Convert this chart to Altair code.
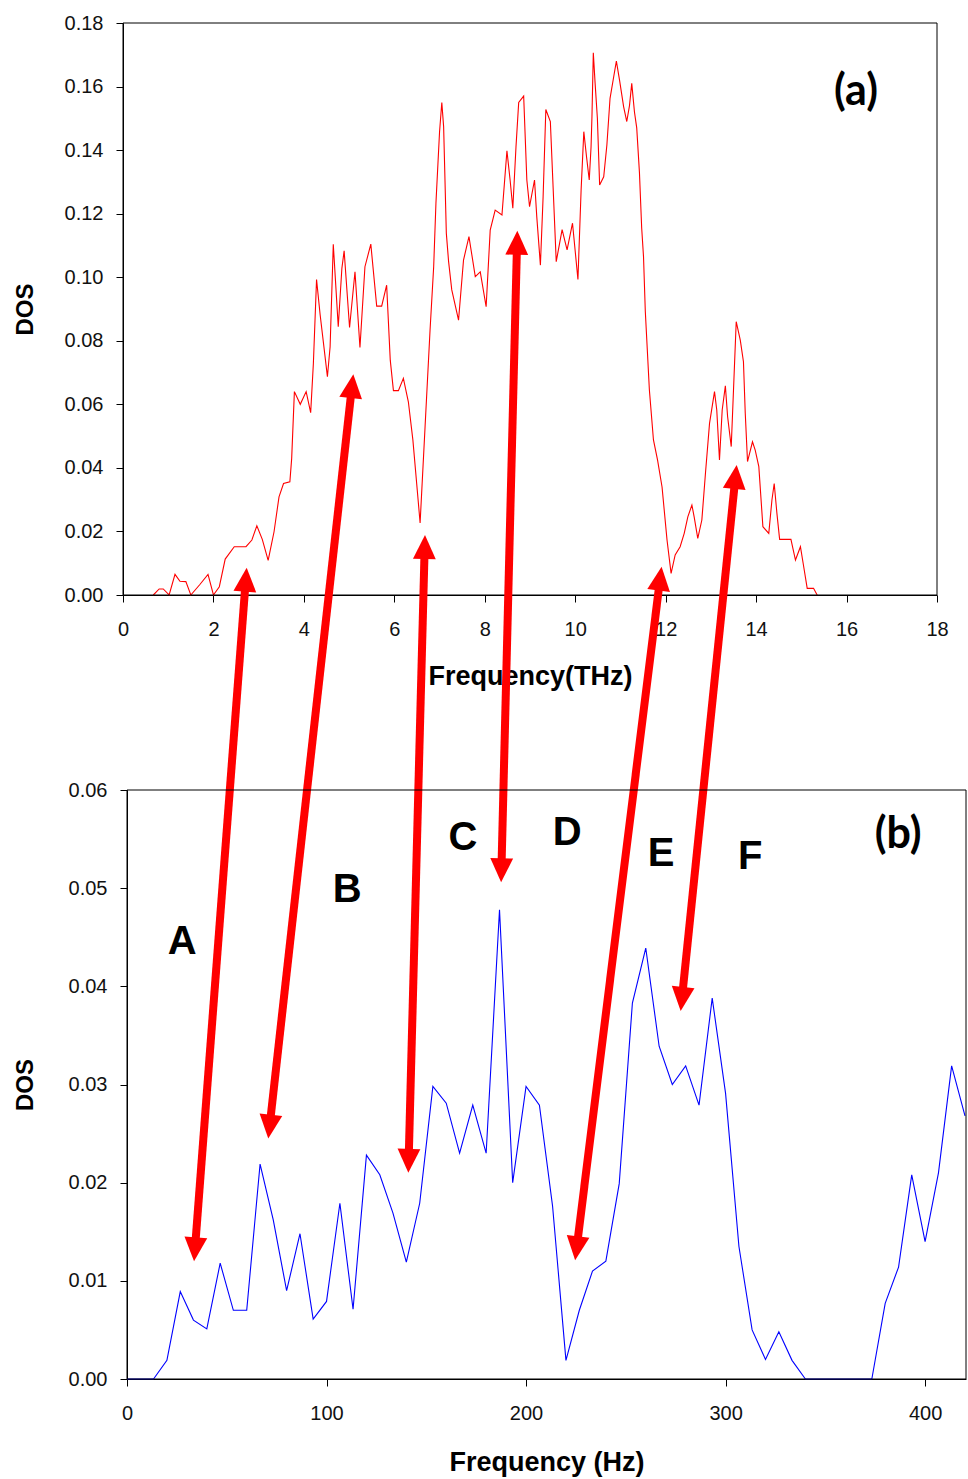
import math
import altair as alt
import pandas as pd

W, H = 968, 1479

# ---------------- panel (a): DOS vs Frequency (THz) ----------------
freq_thz = [0.67, 0.80, 0.89, 1.02, 1.15, 1.26, 1.39, 1.50, 1.70, 1.88, 2.00, 2.13, 2.26, 2.46, 2.72,
            2.85, 2.96, 3.08, 3.21, 3.34, 3.45, 3.55, 3.69, 3.73, 3.79, 3.92, 4.05, 4.15, 4.21, 4.28,
            4.36, 4.52, 4.58, 4.65, 4.76, 4.84, 4.89, 5.01, 5.13, 5.24, 5.35, 5.48, 5.61, 5.72, 5.83,
            5.91, 5.98, 6.09, 6.20, 6.31, 6.41, 6.57, 6.68, 6.79, 6.87, 6.92, 7.00, 7.05, 7.09, 7.15,
            7.20, 7.27, 7.42, 7.53, 7.65, 7.79, 7.90, 8.03, 8.12, 8.23, 8.38, 8.49, 8.56, 8.62, 8.69,
            8.75, 8.86, 8.93, 8.99, 9.10, 9.15, 9.23, 9.29, 9.35, 9.45, 9.58, 9.71, 9.82, 9.94, 10.06,
            10.13, 10.19, 10.25, 10.31, 10.35, 10.37, 10.40, 10.44, 10.49, 10.54, 10.63, 10.70, 10.77,
            10.85, 10.91, 10.98, 11.07, 11.14, 11.20, 11.25, 11.31, 11.36, 11.42, 11.47, 11.51, 11.55,
            11.64, 11.73, 11.82, 11.92, 12.03, 12.12, 12.21, 12.32, 12.41, 12.49, 12.58, 12.63, 12.71,
            12.80, 12.88, 12.97, 13.08, 13.13, 13.19, 13.25, 13.32, 13.37, 13.45, 13.50, 13.56, 13.65,
            13.72, 13.76, 13.81, 13.92, 13.98, 14.06, 14.15, 14.28, 14.35, 14.40, 14.46, 14.52, 14.77,
            14.87, 14.98, 15.04, 15.13, 15.27, 15.35]
dos_a = [0.0, 0.0019, 0.0019, 0.0, 0.0065, 0.0043, 0.0042, 0.0, 0.0033, 0.0065, 0.0, 0.0026, 0.0113,
         0.0152, 0.0152, 0.0173, 0.0218, 0.0175, 0.0109, 0.0199, 0.0309, 0.0351, 0.0356, 0.043, 0.064,
         0.060, 0.064, 0.0574, 0.0729, 0.0993, 0.0881, 0.0687, 0.0781, 0.1104, 0.0844, 0.1028, 0.1083,
         0.0842, 0.1017, 0.0779, 0.1033, 0.1104, 0.0909, 0.0909, 0.0975, 0.0739, 0.0643, 0.0643,
         0.0682, 0.0608, 0.0488, 0.0227, 0.053, 0.0834, 0.1033, 0.1233, 0.1458, 0.155, 0.1474, 0.1138,
         0.1049, 0.096, 0.0865, 0.1054, 0.1128, 0.1002, 0.1017, 0.0907, 0.1148, 0.1211, 0.1196, 0.1398,
         0.1306, 0.1217, 0.141, 0.155, 0.157, 0.1306, 0.1222, 0.1306, 0.119, 0.1038, 0.1253, 0.1528,
         0.149, 0.1049, 0.115, 0.1086, 0.117, 0.0993, 0.1274, 0.1458, 0.1379, 0.1306, 0.141, 0.1505,
         0.1706, 0.161, 0.150, 0.129, 0.1316, 0.1416, 0.1563, 0.163, 0.168, 0.162, 0.1537, 0.149,
         0.154, 0.161, 0.152, 0.147, 0.133, 0.1154, 0.1065, 0.0892, 0.0645, 0.0488, 0.0425, 0.034,
         0.0173, 0.0068, 0.0126, 0.0152, 0.0194, 0.0246, 0.0283, 0.0246, 0.0178, 0.0236, 0.0383,
         0.054, 0.064, 0.0582, 0.0425, 0.0582, 0.0658, 0.0561, 0.0467, 0.0645, 0.086, 0.0802, 0.0734,
         0.0572, 0.042, 0.0482, 0.0456, 0.0404, 0.0215, 0.0194, 0.0299, 0.0351, 0.0257, 0.0175,
         0.0175, 0.011, 0.0152, 0.010, 0.0021, 0.0021, 0.0]

# ---------------- panel (b): DOS vs Frequency (Hz) ----------------
freq_hz = [0, 6.7, 13.3, 20, 26.7, 33.3, 40, 46.7, 53.3, 60, 66.7, 73.3, 80, 86.7, 93.3, 100, 106.7,
           113.3, 120, 126.7, 133.3, 140, 146.7, 153.3, 160, 166.7, 173.3, 180, 186.7, 193.3, 200,
           206.7, 213.3, 220, 226.7, 233.3, 240, 246.7, 253.3, 260, 266.7, 273.3, 280, 286.7, 293.3,
           300, 306.7, 313.3, 320, 326.7, 333.3, 340, 346.7, 353.3, 360, 366.7, 373.3, 380, 386.7,
           393.3, 400, 406.7, 413.3, 420]
dos_b = [0, 0, 0, 0.0019, 0.0089, 0.006, 0.0051, 0.0118, 0.007, 0.007, 0.0219, 0.0162, 0.009, 0.0148,
         0.0061, 0.0079, 0.0179, 0.0071, 0.0228, 0.0208, 0.0169, 0.0119, 0.0179, 0.0298, 0.0281,
         0.023, 0.0279, 0.023, 0.0478, 0.020, 0.0298, 0.0279, 0.0176, 0.0019, 0.007, 0.011, 0.012,
         0.0199, 0.0383, 0.0439, 0.0339, 0.030, 0.0319, 0.0279, 0.0388, 0.0291, 0.0135, 0.005, 0.002,
         0.0048, 0.0019, 0, 0, 0, 0, 0, 0, 0.0077, 0.0114, 0.0208, 0.014, 0.021, 0.0319, 0.0268]

# annotation letters in panel (b) (data units)
letters_b = ["A", "B", "C", "D", "E", "F"]
letters_x = [27.6, 110.3, 168.4, 220.6, 267.7, 312.3]
letters_y = [0.0445, 0.0498, 0.0551, 0.0556, 0.0535, 0.0532]

# double-headed arrows: top end in panel (a) units, bottom end in panel (b) units
arrow_top_thz = [2.735, 5.093, 6.678, 8.72, 11.91, 13.57]
arrow_top_dos = [0.0086, 0.0695, 0.0189, 0.1146, 0.0089, 0.0409]
arrow_bot_hz = [33.6, 70.8, 141.0, 187.5, 224.6, 277.5]
arrow_bot_dos = [0.0120, 0.0245, 0.0210, 0.0506, 0.0121, 0.0375]

# ---------------- page layout of the two panels (page pixels) ----------------
A_XDOM, A_XPAGE = [0, 18], [123, 937]
A_YDOM, A_YPAGE = [0, 0.18], [595, 23]
B_XDOM, B_XPAGE = [0, 420.5], [127, 966]
B_YDOM, B_YPAGE = [0, 0.06], [1379, 790]
ORIGIN_X = 127          # both panels' views start here (vconcat is left aligned)
TOP_Y = A_YPAGE[1]      # top panel view origin
A_W = A_XPAGE[1] - ORIGIN_X
A_H = A_YPAGE[0] - A_YPAGE[1]
B_W = B_XPAGE[1] - B_XPAGE[0]
B_H = B_YPAGE[0] - B_YPAGE[1]
GAP = B_YPAGE[1] - A_YPAGE[0]


def lin(v, dom, rng):
    return rng[0] + (v - dom[0]) / (dom[1] - dom[0]) * (rng[1] - rng[0])


FONT = "Liberation Sans"
LABEL_FS = 20

xa = alt.Scale(domain=A_XDOM, range=[A_XPAGE[0] - ORIGIN_X, A_XPAGE[1] - ORIGIN_X], nice=False, zero=False)
ya = alt.Scale(domain=A_YDOM, range=[A_H, 0], nice=False, zero=False)
xb = alt.Scale(domain=B_XDOM, range=[0, B_W], nice=False, zero=False)
yb = alt.Scale(domain=B_YDOM, range=[B_H, 0], nice=False, zero=False)

base_axis = dict(domainColor="black", tickColor="black", tickSize=7, labelFont=FONT,
                 labelFontSize=LABEL_FS, labelColor="#111", titleFont=FONT, labelFlush=False,
                 labelOverlap=False, titleFontWeight="bold", titleColor="black", grid=False)

ax_a_x = alt.Axis(orient="bottom", values=list(range(0, 19, 2)), labelPadding=17,
                  title="Frequency(THz)", titleFontSize=27, titleY=81, titleBaseline="middle",
                  **base_axis)
ax_a_y = alt.Axis(orient="left", offset=ORIGIN_X - A_XPAGE[0], values=[i * 0.02 for i in range(10)],
                  format=".2f", labelPadding=13, title="DOS", titleFontSize=24, titleX=-98,
                  titleY=A_H / 2, titleAngle=270, titleAlign="center", titleBaseline="middle",
                  **base_axis)
ax_b_x = alt.Axis(orient="bottom", values=[0, 100, 200, 300, 400], labelPadding=17,
                  title="Frequency (Hz)", titleFontSize=27, titleY=83, titleBaseline="middle",
                  **base_axis)
ax_b_y = alt.Axis(orient="left", values=[i * 0.01 for i in range(7)], format=".2f", labelPadding=13,
                  title="DOS", titleFontSize=24, titleX=-102, titleY=B_H / 2, titleAngle=270,
                  titleAlign="center", titleBaseline="middle", **base_axis)

df_a = pd.DataFrame({"f": freq_thz, "d": dos_a})
df_b = pd.DataFrame({"f": freq_hz, "d": dos_b})

# ---- top panel
line_a = alt.Chart(df_a).mark_line(color="#ff0000", strokeWidth=1.1).encode(
    x=alt.X("f:Q", scale=xa, axis=ax_a_x), y=alt.Y("d:Q", scale=ya, axis=ax_a_y))
frame_a = alt.Chart(pd.DataFrame({"f": [A_XDOM[0]], "f2": [A_XDOM[1]],
                                  "d": [A_YDOM[0]], "d2": [A_YDOM[1]]})).mark_rect(
    fillOpacity=0, stroke="black", strokeWidth=1).encode(
    x=alt.X("f:Q", scale=xa, axis=ax_a_x), x2="f2:Q",
    y=alt.Y("d:Q", scale=ya, axis=ax_a_y), y2="d2:Q")
lab_a = alt.Chart(pd.DataFrame({"f": [16.21], "d": [0.1583], "t": ["(a)"]})).mark_text(
    font="Lato", fontSize=43, fontWeight="bold", color="black").encode(
    x=alt.X("f:Q", scale=xa, axis=ax_a_x), y=alt.Y("d:Q", scale=ya, axis=ax_a_y), text="t:N")
panel_a = alt.layer(line_a, frame_a, lab_a)

# ---- arrows, drawn from the top panel in page pixels (they overflow into panel b)
HEAD = 24
rows_shaft, rows_head = [], []
for i in range(len(arrow_top_thz)):
    x1 = lin(arrow_top_thz[i], A_XDOM, A_XPAGE)
    y1 = lin(arrow_top_dos[i], A_YDOM, A_YPAGE)
    x2 = lin(arrow_bot_hz[i], B_XDOM, B_XPAGE)
    y2 = lin(arrow_bot_dos[i], B_YDOM, B_YPAGE)
    L = math.hypot(x1 - x2, y1 - y2)
    ux, uy = (x1 - x2) / L, (y1 - y2) / L  # unit vector from bottom end to top end
    s = 16
    rows_shaft.append({"px": x1 - ux * s, "py": y1 - uy * s, "px2": x2 + ux * s, "py2": y2 + uy * s})
    ang_top = math.degrees(math.atan2(ux, -uy)) % 360
    rows_head.append({"px": x1, "py": y1, "ang": ang_top})
    rows_head.append({"px": x2, "py": y2, "ang": (ang_top + 180) % 360})

px_scale = alt.Scale(domain=[0, W], range=[-ORIGIN_X, W - ORIGIN_X], nice=False, zero=False)
py_scale = alt.Scale(domain=[0, H], range=[-TOP_Y, H - TOP_Y], nice=False, zero=False)

page = alt.Chart(pd.DataFrame({"px": [0], "px2": [W], "py": [0], "py2": [H]})).mark_rect(
    fillOpacity=0, strokeWidth=0).encode(
    x=alt.X("px:Q", scale=px_scale, axis=None), x2="px2:Q",
    y=alt.Y("py:Q", scale=py_scale, axis=None), y2="py2:Q")
shafts = alt.Chart(pd.DataFrame(rows_shaft)).mark_rule(
    color="#ff0000", strokeWidth=8, strokeCap="butt").encode(
    x=alt.X("px:Q", scale=px_scale, axis=None), x2="px2:Q",
    y=alt.Y("py:Q", scale=py_scale, axis=None), y2="py2:Q")
heads = alt.Chart(pd.DataFrame(rows_head)).mark_point(
    shape="M0,0L0.95,2L-0.95,2Z", filled=True, color="#ff0000", opacity=1,
    size=HEAD * HEAD, strokeWidth=0).encode(
    x=alt.X("px:Q", scale=px_scale, axis=None),
    y=alt.Y("py:Q", scale=py_scale, axis=None),
    angle=alt.Angle("ang:Q", scale=None))
arrows = alt.layer(page, shafts, heads)

top = alt.layer(panel_a, arrows).resolve_scale(x="independent", y="independent").properties(
    width=A_W, height=A_H)

# ---- bottom panel
line_b = alt.Chart(df_b).mark_line(color="#0000ff", strokeWidth=1.1).encode(
    x=alt.X("f:Q", scale=xb, axis=ax_b_x), y=alt.Y("d:Q", scale=yb, axis=ax_b_y))
frame_b = alt.Chart(pd.DataFrame({"f": [B_XDOM[0]], "f2": [B_XDOM[1]],
                                  "d": [B_YDOM[0]], "d2": [B_YDOM[1]]})).mark_rect(
    fillOpacity=0, stroke="black", strokeWidth=1).encode(
    x=alt.X("f:Q", scale=xb, axis=ax_b_x), x2="f2:Q",
    y=alt.Y("d:Q", scale=yb, axis=ax_b_y), y2="d2:Q")
lab_b = alt.Chart(pd.DataFrame({"f": letters_x, "d": letters_y, "t": letters_b})).mark_text(
    font=FONT, fontSize=40, fontWeight="bold", color="black").encode(
    x=alt.X("f:Q", scale=xb, axis=ax_b_x), y=alt.Y("d:Q", scale=yb, axis=ax_b_y), text="t:N")
lab_b2 = alt.Chart(pd.DataFrame({"f": [386.5], "d": [0.0554], "t": ["(b)"]})).mark_text(
    font="Lato", fontSize=43, fontWeight="bold", color="black").encode(
    x=alt.X("f:Q", scale=xb, axis=ax_b_x), y=alt.Y("d:Q", scale=yb, axis=ax_b_y), text="t:N")
bottom = alt.layer(line_b, frame_b, lab_b, lab_b2).properties(width=B_W, height=B_H)

chart = alt.vconcat(top, bottom, spacing=GAP, bounds="flush").properties(
    padding=0, background="white").configure_view(strokeWidth=0)

chart.save("out.html", embed_options={"renderer": "svg", "actions": False})
